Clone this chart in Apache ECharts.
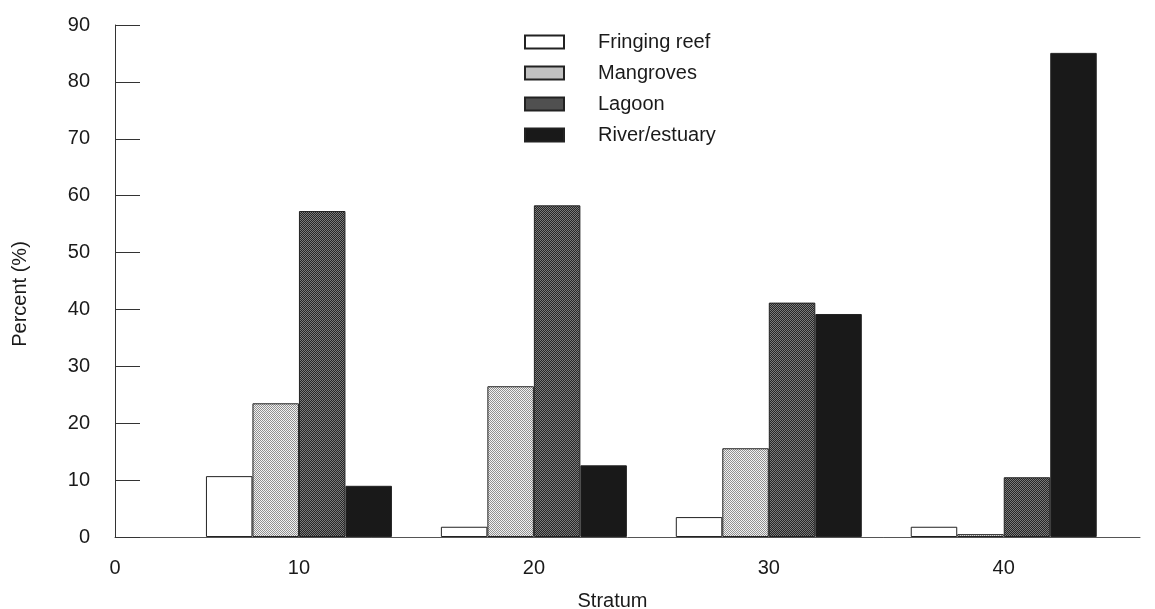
<!DOCTYPE html>
<html>
<head>
<meta charset="utf-8">
<script src="https://cdn.jsdelivr.net/npm/echarts@6/dist/echarts.min.js"></script>
<style>
html,body{margin:0;padding:0;background:#fff;}
#chart{width:1155px;height:609px;}
</style>
</head>
<body>
<div id="chart"></div>
<script>
// Data
const strata = [10, 20, 30, 40];
const seriesNames = ['Fringing reef', 'Mangroves', 'Lagoon', 'River/estuary'];
const fringingReef = [10.7, 1.8, 3.5, 1.8];
const mangroves = [23.5, 26.5, 15.6, 0.5];
const lagoon = [57.3, 58.3, 41.2, 10.5];
const riverEstuary = [9.0, 12.6, 39.2, 85.1];
const yTicks = [0, 10, 20, 30, 40, 50, 60, 70, 80, 90];
const xMin = 2.17, xMax = 45.8;
const xTickValues = [xMin, 10, 20, 30, 40];
const xTickLabels = ['0', '10', '20', '30', '40'];

function makePattern(bg, fg) {
  const c = document.createElement('canvas');
  c.width = 2; c.height = 2;
  const ctx = c.getContext('2d');
  ctx.fillStyle = bg; ctx.fillRect(0, 0, 2, 2);
  ctx.fillStyle = fg; ctx.fillRect(0, 0, 1, 1); ctx.fillRect(1, 1, 1, 1);
  return { image: c, repeat: 'repeat' };
}

const fills = [
  '#ffffff',
  makePattern('#f2f2f2', '#909090'),
  makePattern('#262626', '#7a7a7a'),
  '#191919'
];
const values = [fringingReef, mangroves, lagoon, riverEstuary];

const chart = echarts.init(document.getElementById('chart'), null, { renderer: 'canvas' });
const font = 'Liberation Sans, Arial, Helvetica, sans-serif';

chart.setOption({
  backgroundColor: '#fff',
  animation: false,
  textStyle: { fontFamily: font },
  grid: { left: 115, right: 15, top: 25, bottom: 72, outerBoundsMode: 'none', containLabel: false },
  legend: {
    orient: 'vertical',
    left: 519, top: 27,
    itemWidth: 39, itemHeight: 13, itemGap: 11,
    icon: 'rect',
    textStyle: { fontSize: 20, color: '#1a1a1a', fontFamily: font, padding: [0, 0, 0, 29] },
    data: seriesNames
  },
  xAxis: {
    type: 'value',
    min: xMin, max: xMax,
    name: 'Stratum',
    nameLocation: 'middle',
    nameGap: 54,
    nameTextStyle: { fontSize: 20, color: '#1a1a1a', padding: [0, 30, 0, 0] },
    axisLine: { show: true, lineStyle: { color: '#555', width: 1 } },
    axisTick: { show: false },
    splitLine: { show: false },
    axisLabel: {
      customValues: xTickValues,
      fontSize: 20, color: '#1a1a1a', margin: 21,
      formatter: v => xTickLabels[xTickValues.indexOf(v)] ?? ''
    }
  },
  yAxis: {
    type: 'value',
    min: 0, max: 90, interval: 10,
    name: 'Percent (%)',
    nameLocation: 'middle',
    nameGap: 85,
    nameTextStyle: { fontSize: 20, color: '#1a1a1a', padding: [0, 26, 0, 0] },
    axisLine: { show: true, lineStyle: { color: '#333', width: 1 } },
    axisTick: { show: true, inside: true, length: 25, lineStyle: { color: '#333', width: 1 } },
    splitLine: { show: false },
    axisLabel: { fontSize: 20, color: '#1a1a1a', margin: 25 }
  },
  series: seriesNames.map((name, i) => ({
    name,
    type: 'bar',
    barWidth: 46.5,
    barGap: '0%',
    data: strata.map((s, j) => [s, values[i][j]]),
    itemStyle: { color: fills[i], borderColor: '#222', borderWidth: 1 }
  }))
});
</script>
</body>
</html>
